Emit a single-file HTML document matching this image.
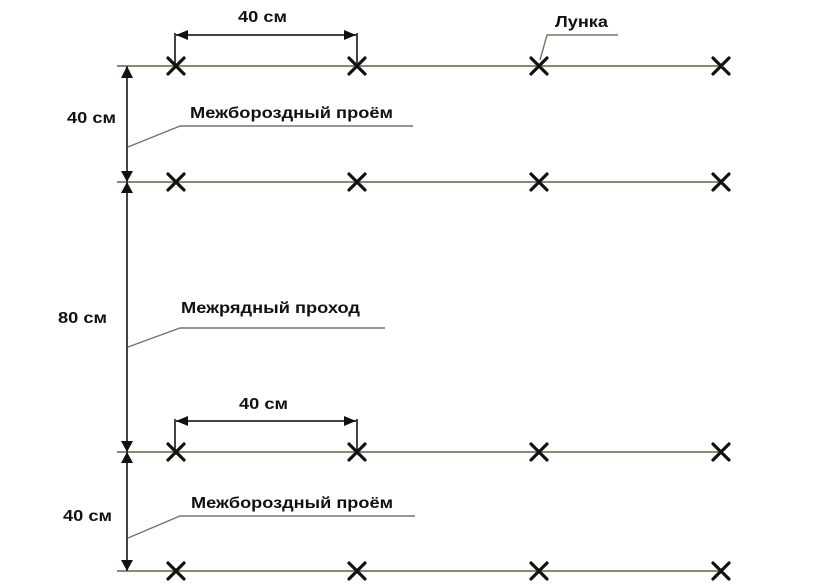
<!DOCTYPE html>
<html><head><meta charset="utf-8"><style>
html,body{margin:0;padding:0;background:#fff}
svg{display:block}
text{font-family:"Liberation Sans",Arial,sans-serif;font-weight:bold;fill:#111}
</style></head><body>
<svg width="840" height="586" viewBox="0 0 840 586" xmlns="http://www.w3.org/2000/svg">
<g stroke="#8a8a72" stroke-width="2" fill="none">
<line x1="117" y1="66" x2="722" y2="66"/>
<line x1="117" y1="182" x2="722" y2="182"/>
<line x1="117" y1="452" x2="722" y2="452"/>
<line x1="117" y1="571" x2="722" y2="571"/>
</g>
<g stroke="#777766" stroke-width="1.4" fill="none">
<polyline points="128,147 180,126 413,126"/>
<polyline points="128,347 180,328 385,328"/>
<polyline points="128,538 180,516 415,516"/>
<polyline points="540,60 547,35 618,35"/>
</g>
<g stroke="#444" stroke-width="2" fill="none">
<line x1="127" y1="66" x2="127" y2="571"/>
<line x1="175" y1="33" x2="175" y2="66"/>
<line x1="357" y1="33" x2="357" y2="66"/>
<line x1="175" y1="35" x2="357" y2="35"/>
<line x1="175" y1="419" x2="175" y2="452"/>
<line x1="357" y1="419" x2="357" y2="452"/>
<line x1="175" y1="421" x2="357" y2="421"/>
</g>
<g fill="#111">
<polygon points="121,78 133,78 127,66"/>
<polygon points="121,171 133,171 127,182"/>
<polygon points="121,193 133,193 127,182"/>
<polygon points="121,441 133,441 127,452"/>
<polygon points="121,463 133,463 127,452"/>
<polygon points="121,560 133,560 127,571"/>
<polygon points="176,35 188,30 188,40"/>
<polygon points="356,35 344,30 344,40"/>
<polygon points="176,421 188,416 188,426"/>
<polygon points="356,421 344,416 344,426"/>
</g>
<g stroke="#111" stroke-width="3.2" stroke-linecap="round">
<path d="M168,58 l16,16 M184,58 l-16,16 M349,58 l16,16 M365,58 l-16,16 M531,58 l16,16 M547,58 l-16,16 M713,58 l16,16 M729,58 l-16,16"/>
<path d="M168,174 l16,16 M184,174 l-16,16 M349,174 l16,16 M365,174 l-16,16 M531,174 l16,16 M547,174 l-16,16 M713,174 l16,16 M729,174 l-16,16"/>
<path d="M168,444 l16,16 M184,444 l-16,16 M349,444 l16,16 M365,444 l-16,16 M531,444 l16,16 M547,444 l-16,16 M713,444 l16,16 M729,444 l-16,16"/>
<path d="M168,563 l16,16 M184,563 l-16,16 M349,563 l16,16 M365,563 l-16,16 M531,563 l16,16 M547,563 l-16,16 M713,563 l16,16 M729,563 l-16,16"/>
</g>
<g font-size="16">
<text x="238" y="22" textLength="49" lengthAdjust="spacingAndGlyphs">40 см</text>
<text x="239" y="409" textLength="49" lengthAdjust="spacingAndGlyphs">40 см</text>
<text x="555" y="27" textLength="53" lengthAdjust="spacingAndGlyphs">Лунка</text>
<text x="67" y="123" textLength="49" lengthAdjust="spacingAndGlyphs">40 см</text>
<text x="58" y="323" textLength="49" lengthAdjust="spacingAndGlyphs">80 см</text>
<text x="63" y="521" textLength="49" lengthAdjust="spacingAndGlyphs">40 см</text>
<text x="190" y="118" textLength="203" lengthAdjust="spacingAndGlyphs">Межбороздный проём</text>
<text x="181" y="313" textLength="179" lengthAdjust="spacingAndGlyphs">Межрядный проход</text>
<text x="191" y="508" textLength="202" lengthAdjust="spacingAndGlyphs">Межбороздный проём</text>
</g>
</svg>
</body></html>
